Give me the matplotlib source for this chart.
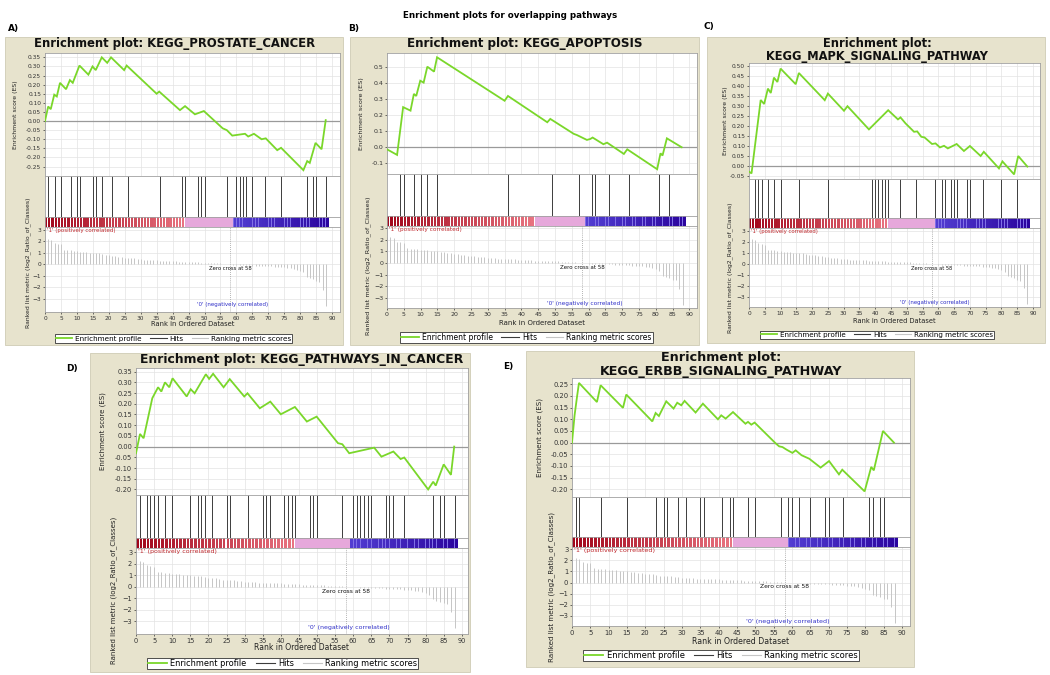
import numpy as np
import matplotlib
matplotlib.use("Agg")
import matplotlib.pyplot as plt
from matplotlib.patches import Rectangle
from matplotlib.lines import Line2D

W, H = 1050, 675
plt.rcParams['font.family'] = ['DejaVu Sans']

# ---------------- data ----------------
ranks = list(range(89))
ranked_metric = [2.25, 2.22, 2.15, 1.85, 1.80, 1.75, 1.28, 1.25, 1.22, 1.18,
                 1.15, 1.12, 1.10, 1.05, 1.02, 1.00, 0.97, 0.95, 0.90, 0.85,
                 0.80, 0.77, 0.73, 0.68, 0.63, 0.60, 0.57, 0.55, 0.52, 0.48,
                 0.45, 0.42, 0.40, 0.38, 0.36, 0.35, 0.33, 0.32, 0.31, 0.30,
                 0.29, 0.27, 0.25, 0.23, 0.21, 0.20, 0.19, 0.18, 0.17, 0.16,
                 0.15, 0.14, 0.12, 0.10, 0.09, 0.08, 0.06, 0.03, 0.00, -0.03,
                 -0.05, -0.06, -0.07, -0.08, -0.09, -0.10, -0.11, -0.12, -0.14, -0.15,
                 -0.16, -0.18, -0.20, -0.22, -0.24, -0.27, -0.30, -0.33, -0.37, -0.45,
                 -0.55, -0.70, -1.10, -1.20, -1.30, -1.45, -1.50, -2.20, -3.60]
zero_cross = 58
red_end = 44
blue_start = 59
x_ticks = list(range(0, 91, 5))

a_title = "Enrichment plot: KEGG_PROSTATE_CANCER"
a_es_rank = [0, 1, 1.8, 2.9, 3.7, 4.7, 6.6, 7.8, 8.7, 10.8, 13.6, 14.9, 15.9, 17.8, 19.5,
             20.7, 24.8, 25.6, 35, 35.8, 42.3, 43.9, 47, 49.8, 55.7, 57, 58.7, 62.7, 63.7,
             65.5, 67.9, 69.2, 72.8, 74, 81, 82.2, 83, 84.8, 86.7, 88]
a_es_score = [0.0, 0.08, 0.065, 0.145, 0.135, 0.21, 0.175, 0.225, 0.21, 0.305, 0.255, 0.30,
              0.28, 0.35, 0.32, 0.35, 0.28, 0.305, 0.15, 0.162, 0.06, 0.082, 0.037, 0.055,
              -0.04, -0.05, -0.08, -0.07, -0.085, -0.07, -0.10, -0.095, -0.16, -0.147, -0.27,
              -0.22, -0.23, -0.12, -0.155, 0.005]
a_hits = [1, 3, 5, 8, 10, 11, 15, 16, 18, 21, 26, 36, 43, 44, 48, 49, 50, 57, 60, 61, 62,
          63, 65, 69, 74, 82, 84, 85, 88]
a_es_ticks = [-0.25, -0.20, -0.15, -0.10, -0.05, 0.00, 0.05, 0.10, 0.15, 0.20, 0.25, 0.30, 0.35]

b_title = "Enrichment plot: KEGG_APOPTOSIS"
b_es_rank = [0, 3, 4.8, 7, 8, 8.7, 9.9, 10.9, 12, 14, 14.9, 35, 36, 47.7, 48.6, 55.6, 56.5,
             59.5, 60.5, 61.2, 64.4, 65.5, 70.5, 71.5, 80.4, 81.4, 82, 83.3, 87.7]
b_es_score = [-0.015, -0.05, 0.25, 0.228, 0.333, 0.32, 0.416, 0.404, 0.504, 0.473, 0.563,
              0.29, 0.32, 0.155, 0.176, 0.082, 0.075, 0.044, 0.05, 0.059, 0.017, 0.027,
              -0.044, -0.015, -0.14, -0.04, -0.054, 0.054, -0.002]
b_hits = [4, 5, 8, 10, 12, 15, 36, 49, 57, 61, 62, 66, 72, 81, 84]
b_es_ticks = [-0.1, 0.0, 0.1, 0.2, 0.3, 0.4, 0.5]

c_title = "Enrichment plot:\nKEGG_MAPK_SIGNALING_PATHWAY"
c_es_rank = [0, 0.8, 3.7, 4.8, 6, 6.9, 7.9, 9, 10, 14.8, 15.8, 24, 25, 30.1, 31.2, 38, 44.1,
             47.2, 48, 49.6, 52.3, 53.3, 54.6, 55.6, 58, 59.1, 60.5, 61.8, 63, 65.8, 68.1, 70,
             73.4, 74.4, 79.2, 80.3, 84, 85.3, 88.2]
c_es_score = [-0.028, -0.037, 0.33, 0.31, 0.387, 0.365, 0.442, 0.42, 0.487, 0.409, 0.465,
              0.329, 0.362, 0.276, 0.299, 0.183, 0.279, 0.233, 0.243, 0.213, 0.171, 0.173,
              0.146, 0.143, 0.11, 0.113, 0.093, 0.101, 0.088, 0.11, 0.075, 0.1, 0.05, 0.071,
              -0.012, 0.023, -0.042, 0.05, -0.003]
c_hits = [2, 3, 4, 6, 8, 10, 16, 25, 39, 40, 41, 42, 43, 44, 48, 53, 59, 61, 62, 64, 65, 66,
          69, 70, 74, 80, 85]
c_es_ticks = [-0.05, 0.00, 0.05, 0.10, 0.15, 0.20, 0.25, 0.30, 0.35, 0.40, 0.45, 0.50]

d_title = "Enrichment plot: KEGG_PATHWAYS_IN_CANCER"
d_es_rank = [0, 1.1, 2.1, 4.5, 6.1, 7, 8, 9.2, 10.1, 14, 15.1, 16.2, 19.3, 20.2, 21.3, 24.2,
             25.9, 29.9, 30.8, 34.2, 37.1, 40, 43.9, 47.2, 49.9, 55.8, 57, 58.9, 65.8, 67.8,
             71.1, 73.1, 74.1, 80.7, 82.1, 82.8, 85, 87, 87.9]
d_es_score = [-0.031, 0.059, 0.039, 0.226, 0.277, 0.257, 0.3, 0.277, 0.319, 0.234, 0.268,
              0.249, 0.338, 0.316, 0.34, 0.277, 0.315, 0.234, 0.249, 0.179, 0.21, 0.151,
              0.185, 0.117, 0.14, 0.016, 0.011, -0.031, -0.005, -0.047, -0.023, -0.058,
              -0.051, -0.2, -0.164, -0.182, -0.083, -0.132, 0.0]
d_hits = [1, 3, 4, 5, 6, 8, 10, 15, 17, 18, 19, 21, 25, 26, 31, 35, 36, 37, 41, 42, 43, 44,
          48, 49, 50, 57, 60, 61, 62, 63, 64, 65, 69, 70, 71, 74, 82, 84, 85, 88]
d_es_ticks = [-0.20, -0.15, -0.10, -0.05, 0.00, 0.05, 0.10, 0.15, 0.20, 0.25, 0.30, 0.35]

e_title = "Enrichment plot:\nKEGG_ERBB_SIGNALING_PATHWAY"
e_es_rank = [0, 0.7, 1.4, 1.9, 6.8, 7.8, 13.9, 14.8, 21.9, 22.8, 23.7, 25.7, 27.7, 28.7,
             29.8, 30.7, 33.7, 35.7, 39.8, 40.7, 41.9, 43.9, 47.3, 48, 48.9, 49.8, 55.6,
             56.5, 57.4, 58.5, 60.1, 61, 62.6, 64.7, 67.8, 70.1, 72.8, 73.7, 79.8, 81.6,
             82.3, 84.8, 87.8]
e_es_score = [0.0, 0.117, 0.2, 0.256, 0.174, 0.246, 0.149, 0.206, 0.091, 0.127, 0.114,
              0.177, 0.146, 0.171, 0.16, 0.179, 0.129, 0.167, 0.1, 0.117, 0.103, 0.131,
              0.081, 0.089, 0.077, 0.086, -0.004, -0.016, -0.019, -0.03, -0.044, -0.033,
              -0.054, -0.069, -0.107, -0.079, -0.136, -0.116, -0.209, -0.104, -0.119, 0.05, 0.0]
e_hits = [1, 2, 8, 15, 23, 25, 26, 29, 31, 35, 36, 41, 43, 44, 48, 50, 57, 59, 60, 62, 65,
          69, 70, 74, 81, 82, 84, 85]
e_es_ticks = [-0.20, -0.15, -0.10, -0.05, 0.00, 0.05, 0.10, 0.15, 0.20, 0.25]

panel_labels = ["A)", "B)", "C)", "D)", "E)"]
legend_labels = ["Enrichment profile", "Hits", "Ranking metric scores"]

# ---------------- styling / layout ----------------
BEIGE = '#e7e3cd'
GREEN = '#7ad72a'
GRID = '#e3e3e3'
SPINE = '#a0a0a0'

fig = plt.figure(figsize=(W / 100, H / 100), dpi=100)
fig.patch.set_facecolor('white')


def axpx(x0, y0, x1, y1):
    return fig.add_axes([x0 / W, 1 - y1 / H, (x1 - x0) / W, (y1 - y0) / H])


def lerp(c0, c1, t):
    return tuple(a + (b - a) * t for a, b in zip(c0, c1))


def style_spines(ax):
    for s in ax.spines.values():
        s.set_color(SPINE)
        s.set_linewidth(0.6)


def draw_panel(title, es_rank, es_score, hits, es_ticks, fmt, label, lay):
    L, R = lay['L'], lay['R']
    s = lay['ppu'] / 3.3
    xmax = (R - L) / lay['ppu']
    bx0, by0, bx1, by1 = lay['box']
    fig.add_artist(Rectangle((bx0 / W, 1 - by1 / H), (bx1 - bx0) / W, (by1 - by0) / H,
                             transform=fig.transFigure, facecolor=BEIGE,
                             edgecolor='#cfcbb4', lw=0.6, zorder=-5))
    fig.text(lay['lab'][0] / W, 1 - lay['lab'][1] / H, label, fontsize=6.5,
             weight='bold', ha='left', va='center')
    fig.text(lay['tx'] / W, 1 - lay['ty'] / H, title, fontsize=lay['tfs'],
             weight='bold', ha='center', va='center', color='#111111',
             linespacing=1.05, multialignment='center')

    tfs = 4.4 * s
    # ES axes
    ax = axpx(L, lay['es'][0], R, lay['es'][1])
    ax.set_facecolor('white')
    ax.plot(es_rank, es_score, color=GREEN, lw=1.3, zorder=3, solid_joinstyle='miter')
    ax.axhline(0, color='#9a9a9a', lw=0.9, zorder=2)
    ax.set_xlim(0, xmax)
    ax.set_ylim(*lay['esy'])
    ax.set_xticks(x_ticks)
    ax.set_xticklabels([])
    ax.set_yticks(es_ticks)
    ax.set_yticklabels([fmt % v for v in es_ticks])
    ax.tick_params(axis='x', length=0)
    ax.tick_params(axis='y', labelsize=tfs, length=1.5, width=0.5, pad=1.2,
                   colors='#333333')
    ax.grid(True, color=GRID, lw=0.5, zorder=0)
    ax.set_axisbelow(True)
    style_spines(ax)

    # hits axes
    ah = axpx(L, lay['es'][1], R, lay['cb'][0])
    ah.vlines(hits, 0, 1, color='#3c3c3c', lw=0.7)
    ah.set_xlim(0, xmax)
    ah.set_ylim(0, 1)
    ah.set_xticks([])
    ah.set_yticks([])
    style_spines(ah)

    # colour bar axes
    ac = axpx(L, lay['cb'][0], R, lay['cb'][1])
    for i in ranks:
        if i < red_end:
            c = lerp((0.63, 0.02, 0.10), (0.91, 0.45, 0.50), i / (red_end - 1))
            ac.bar(i, 1, width=0.72, align='edge', color=c, lw=0)
        elif i < blue_start:
            ac.bar(i, 1, width=1.0, align='edge', color=(0.90, 0.66, 0.86), lw=0)
        else:
            c = lerp((0.32, 0.24, 0.82), (0.17, 0.02, 0.62),
                     (i - blue_start) / (len(ranks) - 1 - blue_start))
            ac.bar(i, 1, width=1.0, align='edge', color=(0.50, 0.44, 0.90), lw=0)
            ac.bar(i + 0.1, 1, width=0.8, align='edge', color=c, lw=0)
    ac.set_xlim(0, xmax)
    ac.set_ylim(0, 1)
    ac.set_xticks([])
    ac.set_yticks([])
    style_spines(ac)

    # ranked list axes
    ar = axpx(L, lay['cb'][1], R, lay['rb'])
    ar.vlines(ranks, 0, ranked_metric, color='#c6c6c6', lw=0.7, zorder=2)
    ar.axvline(zero_cross, color='#9a9a9a', lw=0.6, ls=(0, (1, 1.5)), zorder=1)
    ar.set_xlim(0, xmax)
    ar.set_ylim(*lay['rky'])
    ar.set_xticks(x_ticks)
    ar.set_yticks([-3, -2, -1, 0, 1, 2, 3])
    ar.tick_params(labelsize=tfs, length=1.5, width=0.5, pad=1.2, colors='#333333')
    ar.grid(True, color=GRID, lw=0.5, zorder=0)
    ar.set_axisbelow(True)
    style_spines(ar)
    top = lay['rky'][1]
    ar.text(0.6, top - 0.12, "'1' (positively correlated)", color='#c0282d',
            fontsize=4.1 * s, ha='left', va='top')
    ar.text(zero_cross, -0.38, "Zero cross at %d" % zero_cross, color='#111111',
            fontsize=3.9 * s, ha='center', va='center')
    ar.text(zero_cross + 0.8, -3.5, "'0' (negatively correlated)", color='#3030c8',
            fontsize=4.1 * s, ha='center', va='center')

    # axis labels
    fig.text(lay['ylx'][0] / W, 1 - (lay['es'][0] + lay['es'][1]) / 2 / H,
             "Enrichment score (ES)", rotation=90, fontsize=4.6 * s,
             ha='center', va='center', color='#222222')
    fig.text(lay['ylx'][1] / W, 1 - lay['rly'] / H,
             "Ranked list metric (log2_Ratio_of_Classes)", rotation=90,
             fontsize=4.6 * s, ha='center', va='center', color='#222222')
    fig.text((L + R) / 2 / W, 1 - lay['xly'] / H, "Rank in Ordered Dataset",
             fontsize=5.0 * s, ha='center', va='center', color='#222222')

    handles = [Line2D([], [], color=GREEN, lw=1.3),
               Line2D([], [], color='#3c3c3c', lw=0.8),
               Line2D([], [], color='#c6c6c6', lw=0.8)]
    leg = fig.legend(handles, legend_labels, loc='center',
                     bbox_to_anchor=(lay['leg'][0] / W, 1 - lay['leg'][1] / H),
                     ncol=3, fontsize=5.4 * s, frameon=True, fancybox=False,
                     edgecolor='#333333', framealpha=1, handlelength=2.3,
                     handletextpad=0.4, columnspacing=1.1, borderpad=0.15,
                     borderaxespad=0)
    leg.get_frame().set_linewidth(0.6)


layouts = [
    dict(box=(5, 37, 343, 345), lab=(8, 29), tx=175, ty=43, tfs=8.4, L=45, R=340, ppu=3.19,
         es=(53, 176), cb=(217, 227), rb=312, esy=(-0.302, 0.374), rky=(-4.15, 3.26),
         ylx=(16, 28), rly=263, xly=324, leg=(173.5, 338.5)),
    dict(box=(350, 37, 699, 345), lab=(348, 28), tx=525, ty=44, tfs=8.6, L=387, R=697,
         ppu=3.36, es=(53, 174), cb=(216, 226), rb=308, esy=(-0.17, 0.59),
         rky=(-3.88, 3.19), ylx=(362, 368), rly=266, xly=323, leg=(526.5, 337.5)),
    dict(box=(707, 37, 1045, 343), lab=(703, 26), tx=877, ty=49.8, tfs=8.3, L=749, R=1040,
         ppu=3.156, es=(63, 179), cb=(218, 228), rb=307, esy=(-0.065, 0.515),
         rky=(-3.87, 3.24), ylx=(725, 730), rly=268, xly=321, leg=(877, 335)),
    dict(box=(90, 353, 470, 672), lab=(66, 368), tx=302, ty=360, tfs=8.9, L=136, R=468,
         ppu=3.62, es=(368, 495), cb=(538, 548), rb=634, esy=(-0.226, 0.367),
         rky=(-4.1, 3.37), ylx=(103, 114), rly=590, xly=648, leg=(282.5, 663.5)),
    dict(box=(526, 351, 914, 667), lab=(503, 367), tx=721, ty=364.5, tfs=9.2, L=572, R=910,
         ppu=3.667, es=(378, 497), cb=(537, 547), rb=626, esy=(-0.233, 0.277),
         rky=(-3.9, 3.2), ylx=(540, 552), rly=587, xly=641, leg=(721, 655.5)),
]

panels = [
    (a_title, a_es_rank, a_es_score, a_hits, a_es_ticks, '%.2f'),
    (b_title, b_es_rank, b_es_score, b_hits, b_es_ticks, '%.1f'),
    (c_title, c_es_rank, c_es_score, c_hits, c_es_ticks, '%.2f'),
    (d_title, d_es_rank, d_es_score, d_hits, d_es_ticks, '%.2f'),
    (e_title, e_es_rank, e_es_score, e_hits, e_es_ticks, '%.2f'),
]

for (t, r, sc, hts, tk, fm), lab, lay in zip(panels, panel_labels, layouts):
    draw_panel(t, r, sc, hts, tk, fm, lab, lay)

fig.text(510 / W, 1 - 15 / H, "Enrichment plots for overlapping pathways",
         fontsize=6.3, weight='bold', ha='center', va='center')

fig.savefig("out.png", dpi=100, facecolor='white')
